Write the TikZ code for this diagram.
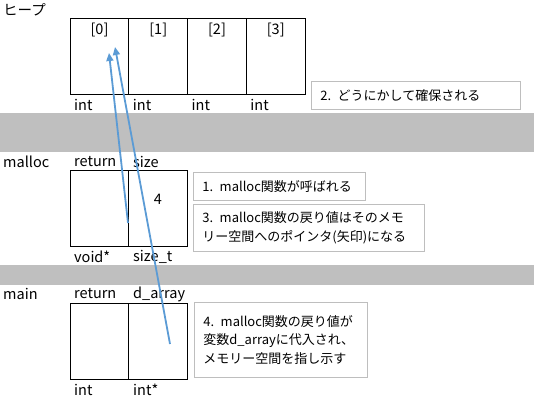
\documentclass[tikz,border=0pt]{standalone}
\usepackage{fontspec}
\setmainfont{Noto Sans CJK JP}
\usetikzlibrary{positioning,arrows.meta}
\definecolor{arrowblue}{RGB}{91,155,213}
\definecolor{bandgray}{RGB}{191,191,191}
\definecolor{notegray}{RGB}{190,190,190}

\begin{document}
\begin{tikzpicture}[x=1pt,y=-1pt,font=\fontsize{14.5}{18.5}\selectfont,
	cell/.style={draw,line width=0.9pt,minimum width=58.75pt,minimum height=76pt,inner sep=0pt,outer sep=0pt,anchor=north west},
	lbl/.style={inner sep=0pt,anchor=west},
	note/.style={draw=notegray,line width=0.8pt,anchor=north west,align=left,inner xsep=9pt,inner ysep=0pt,font=\fontsize{13}{18.5}\selectfont},
	ptr/.style={arrowblue,line width=1.8pt,-{Triangle[length=8pt,width=7pt]}}]
	\useasboundingbox (0,0) rectangle (534,406);
	% gray bands between the frames
	\fill[bandgray] (0,113) rectangle (534,152);
	\fill[bandgray] (0,265) rectangle (534,285);
	% heap
	\node[lbl] (heap) at (3,10) {ヒープ};
		\foreach \i in {0,...,3} {
			\node[inner sep=0pt] (hi\i) at (99.5+58.75*\i,30) {[\i]};
			\node[cell] (h\i) at (70+58.75*\i,18) {};
			\node[lbl] (ht\i) at (74+58.75*\i,105) {int};
		}
	\node[note,text width=191pt,minimum height=28pt] (n2) at (311,81) {2. どうにかして確保される};
	% malloc
	\node[lbl] (malloc) at (3,162) {malloc};
	\node[cell] (mr) at (70,170) {};
	\node[cell] (ms) at (mr.north east) {};
	\node[lbl] at (74,162) {return};
	\node[lbl] at (133,162) {size};
	\node[inner sep=0pt] (four) at (158,199) {4};
	\node[lbl] at (74,257) {void*};
	\node[lbl] at (133,257) {size\_t};
	\node[note,text width=154pt,minimum height=28pt] (n1) at (193,172) {1. malloc関数が呼ばれる};
	\node[note,text width=213pt,minimum height=47pt] (n3) at (193,204) {3. malloc関数の戻り値はそのメモ\\リー空間へのポインタ(矢印)になる};
	% main
	\node[lbl] (main) at (3,294) {main};
	\node[cell] (ar) at (70,303) {};
	\node[cell] (ad) at (ar.north east) {};
	\node[lbl] at (74,294) {return};
	\node[lbl] at (133,294) {d\_array};
	\node[lbl] at (74,390) {int};
	\node[lbl] at (133,390) {int*};
	\node[note,text width=155pt,minimum height=75pt] (n4) at (194,302) {4. malloc関数の戻り値が\\変数d\_arrayに代入され、\\メモリー空間を指し示す};
	% pointers
	\coordinate (retval) at (128,223);
	\coordinate (darray) at (170,344);
	\coordinate (tgtA) at (109,53);
	\coordinate (tgtB) at (115,47);
	\draw[ptr] (retval) -- (tgtA);
	\draw[ptr] (darray) -- (tgtB);
\end{tikzpicture}
\end{document}
